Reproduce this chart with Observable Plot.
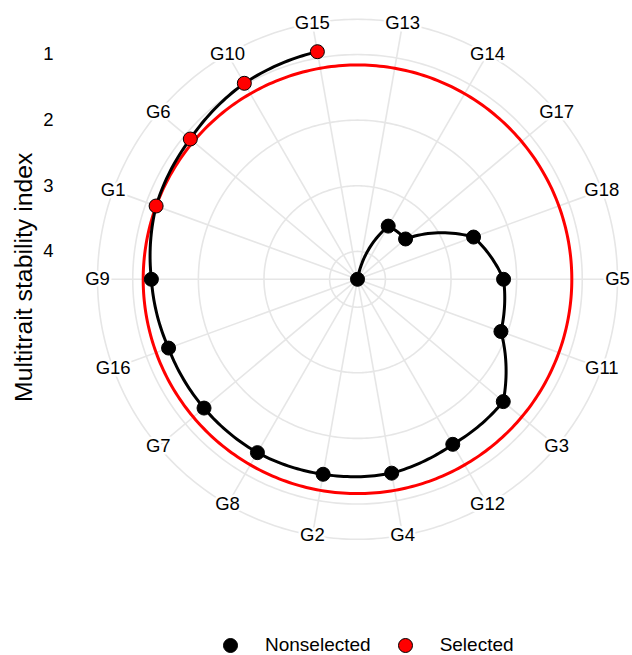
<!DOCTYPE html>
<html><head><meta charset="utf-8">
<script src="https://cdn.jsdelivr.net/npm/d3@7"></script>
<script src="https://cdn.jsdelivr.net/npm/@observablehq/plot@0.6"></script>
<style>
body{margin:0;background:#fff;font-family:"Liberation Sans",Arial,sans-serif;}
#legend{display:flex;align-items:center;height:26px;padding-left:223px;font-size:19px;color:#000;}
.sw{width:15px;height:15px;border-radius:50%;box-sizing:border-box;border:1px solid #000;flex:none;}
.lab{white-space:nowrap;}
</style></head><body><div id="chart"></div><div id="legend"></div>
<script>
// ---- data ----
const genotypes = ["G13","G14","G17","G18","G5","G11","G3","G12","G4","G2","G8","G7","G16","G9","G1","G6","G10","G15"];
const mtsi = [4.425,3.489,3.469,2.543,2.199,2.099,1.525,1.521,1.425,1.408,1.375,1.372,1.361,1.284,1.159,1.099,0.976,0.903];
const selection = ["Nonselected","Nonselected","Nonselected","Nonselected","Nonselected","Nonselected","Nonselected",
  "Nonselected","Nonselected","Nonselected","Nonselected","Nonselected","Nonselected","Nonselected",
  "Selected","Selected","Selected","Selected"];
const radialTicks = [1,2,3,4];
const groups = ["Nonselected","Selected"];
const groupColors = ["#000000","#ff0000"];
const axisTitle = "Multitrait stability index";

// ---- layout ----
const W = 632, H = 632, CX = 357, CY = 278.8, RPX = 260, ROUT = 0.45, RDATA = 0.4;
const n = genotypes.length;
const theta = i => (i + 0.5) / n * 2 * Math.PI;
const rScale = d3.scaleLinear().domain([d3.max(mtsi), d3.min(mtsi)]).range([0, RDATA]);
const px = (r, i) => r * Math.sin(theta(i));
const py = (r, i) => r * Math.cos(theta(i));

const data = genotypes.map((g, i) => ({genotype: g, mtsi: mtsi[i], sel: selection[i], i}));
const cutoff = d3.max(data.filter(d => d.sel === "Selected"), d => d.mtsi);

const ringRadii = [...radialTicks.map(v => rScale(v)), ROUT];
const ringPts = (r, key) => d3.range(n + 1).map(i => ({key, r, i}));
const gridRings = ringRadii.flatMap((r, k) => ringPts(r, "g" + k));
const cutRing = ringPts(rScale(cutoff), "cut");

// polar rendering of paths (like coord_polar munching): interpolate angle & radius
function polarCurve(context) {
  let pts;
  const wrap = a => { while (a > Math.PI) a -= 2 * Math.PI; while (a <= -Math.PI) a += 2 * Math.PI; return a; };
  return {
    areaStart() {}, areaEnd() {},
    lineStart() { pts = []; },
    point(x, y) { pts.push([+x, +y]); },
    lineEnd() {
      if (!pts.length) return;
      const pol = pts.map(([x, y]) => ({t: Math.atan2(x - CX, CY - y), r: Math.hypot(x - CX, y - CY)}));
      pol.forEach((p, i) => {
        if (p.r < 0.01) {
          const a = pol[i + 1], b = pol[i + 2];
          if (a && b) p.t = a.t - wrap(b.t - a.t);
          else if (a) p.t = a.t;
          else if (i > 0) p.t = pol[i - 1].t;
        }
      });
      context.moveTo(pts[0][0], pts[0][1]);
      for (let i = 1; i < pol.length; i++) {
        const p0 = pol[i - 1], p1 = pol[i];
        const dt = wrap(p1.t - p0.t);
        const steps = Math.max(1, Math.ceil(Math.abs(dt) / (Math.PI / 180)));
        for (let k = 1; k <= steps; k++) {
          const f = k / steps;
          const t = p0.t + dt * f, r = p0.r + (p1.r - p0.r) * f;
          context.lineTo(CX + r * Math.sin(t), CY - r * Math.cos(t));
        }
      }
    }
  };
}

const grid = "#e6e6e6";
const chart = Plot.plot({
  width: W, height: H,
  marginLeft: CX - RPX, marginRight: W - CX - RPX,
  marginTop: CY - RPX, marginBottom: H - CY - RPX,
  x: {domain: [-ROUT, ROUT]},
  y: {domain: [-ROUT, ROUT]},
  axis: null,
  color: {domain: groups, range: groupColors},
  style: {fontFamily: '"Liberation Sans", Arial, sans-serif', background: "#fff", overflow: "visible"},
  marks: [
    Plot.line(gridRings, {x: d => px(d.r, d.i), y: d => py(d.r, d.i), z: "key", stroke: grid, strokeWidth: 1.6, curve: polarCurve}),
    Plot.link(d3.range(n), {x1: 0, y1: 0, x2: i => px(ROUT, i), y2: i => py(ROUT, i), stroke: grid, strokeWidth: 1.6}),
    Plot.line(cutRing, {x: d => px(d.r, d.i), y: d => py(d.r, d.i), stroke: "#ff0000", strokeWidth: 3, curve: polarCurve}),
    Plot.line(data, {x: d => px(rScale(d.mtsi), d.i), y: d => py(rScale(d.mtsi), d.i), stroke: "#000", strokeWidth: 3, curve: polarCurve}),
    Plot.dot(data, {x: d => px(rScale(d.mtsi), d.i), y: d => py(rScale(d.mtsi), d.i), fill: "sel", stroke: "#000", strokeWidth: 1, r: 7}),
    Plot.text(data, {x: d => px(ROUT, d.i), y: d => py(ROUT, d.i), text: "genotype", fontSize: 18.5, fill: "#000", stroke: "#fff", strokeWidth: 5}),
    Plot.text(radialTicks, {frameAnchor: "left", y: d => rScale(d), text: d => String(d), textAnchor: "end", dx: -44, fontSize: 18.5, fill: "#000"}),
    Plot.text([axisTitle], {frameAnchor: "left", text: d => d, textAnchor: "middle", lineAnchor: "middle", rotate: -90, dx: -73, dy: -2, fontSize: 24.8, fill: "#000"})
  ]
});
document.getElementById("chart").appendChild(chart);

// legend below the chart
const legend = document.getElementById("legend");
groups.forEach((g, k) => {
  const sw = document.createElement("span");
  sw.className = "sw";
  sw.style.background = groupColors[k];
  sw.style.marginRight = "27px";
  const lab = document.createElement("span");
  lab.className = "lab";
  lab.textContent = g;
  if (k < groups.length - 1) lab.style.marginRight = "27px";
  legend.appendChild(sw);
  legend.appendChild(lab);
});
</script></body></html>
